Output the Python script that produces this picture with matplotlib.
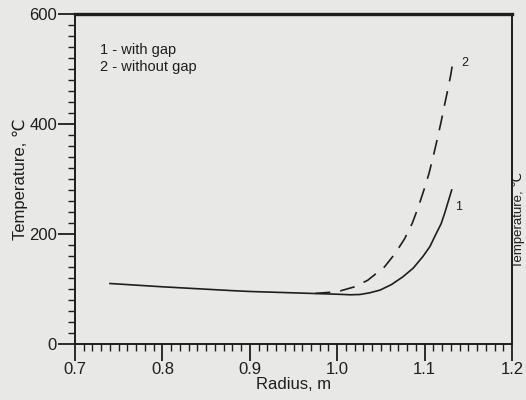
import matplotlib
matplotlib.use("Agg")
from matplotlib import pyplot as plt
from matplotlib.ticker import MultipleLocator

plt.rcParams["font.family"] = ["Liberation Sans", "DejaVu Sans"]
plt.rcParams["font.size"] = 12

# curve 1 - with gap (solid)
r_gap = [0.74, 0.80, 0.88, 0.90, 0.95, 1.00, 1.015, 1.026, 1.037, 1.049, 1.062,
         1.075, 1.087, 1.098, 1.106, 1.113, 1.119, 1.123, 1.127, 1.131]
t_gap = [110, 104, 97, 95.5, 93, 90.5, 89.5, 90, 93, 98, 108,
         122, 138, 159, 177, 200, 219, 238, 259, 280]

# curve 2 - without gap (dashed)
r_nogap = [0.975, 1.000, 1.020, 1.035, 1.054, 1.066, 1.077, 1.086, 1.093,
           1.099, 1.105, 1.110, 1.115, 1.119, 1.123, 1.127, 1.130, 1.132]
t_nogap = [92, 95, 104, 116, 140, 164, 191, 220, 250,
           279, 310, 342, 376, 405, 436, 466, 490, 510]

legend_lines = ["1 - with gap", "2 - without gap"]

bg = "#e8e8e6"
ink = "#1e1e1e"

fig = plt.figure(figsize=(5.26, 4.0), dpi=100, facecolor=bg)
ax = fig.add_axes([0.1426, 0.14, 0.8308, 0.825], facecolor=bg)

ax.plot(r_gap, t_gap, color=ink, lw=1.2)
ax.plot(r_nogap, t_nogap, color=ink, lw=1.2, ls=(0, (9, 6)))

ax.set_xlim(0.7, 1.2)
ax.set_ylim(0, 600)
ax.xaxis.set_major_locator(MultipleLocator(0.1))
ax.xaxis.set_minor_locator(MultipleLocator(0.01))
ax.yaxis.set_major_locator(MultipleLocator(200))
ax.yaxis.set_minor_locator(MultipleLocator(20))
ax.set_xticks([0.7, 0.8, 0.9, 1.0, 1.1, 1.2])
ax.set_xticklabels(["0.7", "0.8", "0.9", "1.0", "1.1", "1.2"])

ax.tick_params(which="major", direction="out", length=12, width=1.3,
               color=ink, labelcolor=ink, labelsize=12, pad=1)
ax.tick_params(which="minor", direction="out", length=5, width=1.0, color=ink)

for side in ["left", "bottom", "right"]:
    ax.spines[side].set_linewidth(1.4)
    ax.spines[side].set_color(ink)
ax.spines["top"].set_linewidth(2.4)
ax.spines["top"].set_color(ink)

ax.set_xlabel("Radius, m", color=ink, fontsize=12, labelpad=0)
ax.set_ylabel("Temperature, \u2103", color=ink, fontsize=12, labelpad=1)

ax.text(0.7286, 535, legend_lines[0], fontsize=10.5, color=ink, va="center")
ax.text(0.7286, 504, legend_lines[1], fontsize=10.5, color=ink, va="center")
ax.text(1.1354, 249, "1", fontsize=9, color=ink, va="center")
ax.text(1.1423, 511, "2", fontsize=9, color=ink, va="center")

# label of the neighbouring panel at the right edge
fig.text(0.999, 0.45, "Temperature, \u2103", rotation=90, fontsize=9.5,
         color=ink, ha="right", va="center")

fig.savefig("out.png", dpi=100, facecolor=bg)
